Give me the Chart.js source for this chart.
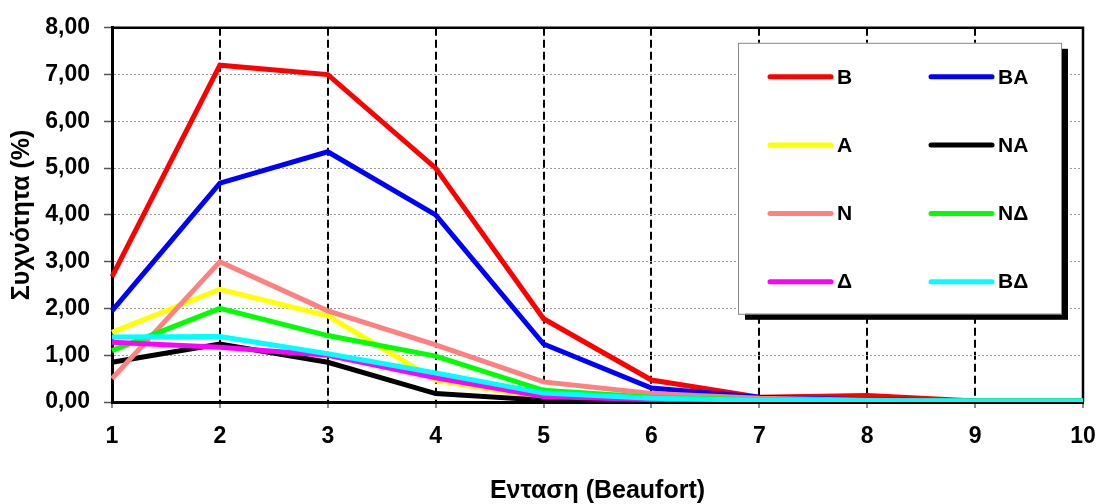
<!DOCTYPE html>
<html>
<head>
<meta charset="utf-8">
<script src="https://cdn.jsdelivr.net/npm/chart.js@4/dist/chart.umd.min.js"></script>
<style>
  body { margin: 0; background: #fff; }
  #wrap { width: 1099px; height: 504px; }
</style>
</head>
<body>
<div id="wrap"><canvas id="line-chart0" width="1099" height="504"></canvas></div>
<script>
var beaufort = ["1", "2", "3", "4", "5", "6", "7", "8", "9", "10"];

var seriesNames = ["B", "BA", "A", "NA", "N", "NΔ", "Δ", "BΔ"];
var seriesColors = ['#ff0000', '#0000ff', '#ffff00', '#000000', '#ff8080', '#00ff00', '#ff00ff', '#00ffff'];

var valB  = [2.68, 7.20, 7.00, 5.00, 1.78, 0.47, 0.10, 0.14, 0.02, 0.02];
var valBA = [1.95, 4.68, 5.35, 4.00, 1.24, 0.30, 0.10, 0.05, 0.02, 0.02];
var valA  = [1.49, 2.41, 1.84, 0.47, 0.08, 0.05, 0.03, 0.02, 0.01, 0.01];
var valNA = [0.85, 1.24, 0.85, 0.18, 0.04, 0.02, 0.01, 0.01, 0.01, 0.01];
var valN  = [0.50, 3.00, 1.95, 1.22, 0.43, 0.18, 0.08, 0.04, 0.02, 0.02];
var valND = [1.10, 2.00, 1.42, 0.98, 0.25, 0.10, 0.05, 0.03, 0.02, 0.02];
var valD  = [1.28, 1.17, 1.00, 0.52, 0.12, 0.05, 0.03, 0.02, 0.01, 0.01];
var valBD = [1.39, 1.40, 1.03, 0.62, 0.19, 0.08, 0.04, 0.03, 0.02, 0.02];

var allValues = [valB, valBA, valA, valNA, valN, valND, valD, valBD];

var yTicks = [0, 1, 2, 3, 4, 5, 6, 7, 8];

var fontFam = "'Liberation Sans', Arial, sans-serif";

// later series are painted on top, like the original
var datasets = seriesNames.map(function (name, i) {
    return {
        label: name,
        data: allValues[i],
        borderColor: seriesColors[i],
        backgroundColor: seriesColors[i],
        borderWidth: 5,
        pointRadius: 0,
        tension: 0,
        order: seriesNames.length - i
    };
});

// frame on top and right of the plot area
var framePlugin = {
    id: 'frame',
    beforeDatasetsDraw: function (chart) {
        var a = chart.chartArea, ctx = chart.ctx;
        ctx.save();
        ctx.strokeStyle = '#000';
        ctx.lineWidth = 2.5;
        ctx.beginPath();
        ctx.moveTo(a.left, a.top);
        ctx.lineTo(a.right, a.top);
        ctx.lineTo(a.right, a.bottom);
        ctx.stroke();
        ctx.restore();
    }
};

// two column boxed legend with a drop shadow
var boxLegend = {
    id: 'boxLegend',
    afterDraw: function (chart) {
        var a = chart.chartArea, ctx = chart.ctx;
        var bx = a.right - 345, by = a.top + 15, bw = 323, bh = 271;
        ctx.save();
        ctx.fillStyle = '#000';
        ctx.fillRect(bx + 7, by + 6, bw, bh);
        ctx.fillStyle = '#fff';
        ctx.fillRect(bx, by, bw, bh);
        ctx.strokeStyle = '#888';
        ctx.lineWidth = 1;
        ctx.strokeRect(bx + 0.5, by + 0.5, bw, bh);
        ctx.font = 'bold 21px ' + fontFam;
        ctx.textBaseline = 'middle';
        ctx.textAlign = 'left';
        chart.data.datasets.forEach(function (ds, i) {
            var col = i % 2, row = Math.floor(i / 2);
            var x = bx + 32 + col * 161;
            var y = by + 34 + row * 68.3;
            ctx.strokeStyle = ds.borderColor;
            ctx.lineWidth = 5;
            ctx.lineCap = 'round';
            ctx.beginPath();
            ctx.moveTo(x, y);
            ctx.lineTo(x + 61, y);
            ctx.stroke();
            ctx.fillStyle = '#000';
            ctx.fillText(ds.label, x + 67, y + 1);
        });
        ctx.restore();
    }
};

var lineChart = new Chart(document.getElementById("line-chart0"), {
    type: 'line',
    data: { labels: beaufort, datasets: datasets },
    plugins: [framePlugin, boxLegend],
    options: {
        responsive: false,
        animation: false,
        layout: { padding: { left: 0, right: 16, top: 24, bottom: 0 } },
        plugins: {
            legend: { display: false },
            tooltip: { enabled: false }
        },
        scales: {
            x: {
                offset: false,
                afterFit: function (s) {
                    s.height = 102;
                    s.paddingLeft = 0;
                    s.paddingRight = 0;
                },
                grid: {
                    color: '#000',
                    lineWidth: 2,
                    tickLength: 8,
                    tickColor: '#666',
                    tickWidth: 1.5,
                    tickBorderDash: [4, 3]
                },
                border: { display: true, color: '#000', width: 3, dash: [8, 4] },
                ticks: {
                    color: '#000',
                    padding: 13,
                    maxRotation: 0,
                    autoSkip: false,
                    font: { family: fontFam, size: 23, weight: 'bold' }
                },
                title: {
                    display: true,
                    text: 'Ενταση (Beaufort)',
                    color: '#000',
                    padding: { top: 0, bottom: 0 },
                    font: { family: fontFam, size: 25, weight: 'bold', lineHeight: 1 }
                }
            },
            y: {
                min: 0,
                max: 8,
                afterFit: function (s) { s.width = 112; },
                afterBuildTicks: function (s) {
                    s.ticks = yTicks.map(function (v) { return { value: v }; });
                },
                grid: {
                    color: '#9a9a9a',
                    lineWidth: 1,
                    tickLength: 8,
                    tickColor: '#555',
                    tickWidth: 1.5,
                    tickBorderDash: []
                },
                border: { display: true, color: '#000', width: 3, dash: [2, 2] },
                ticks: {
                    color: '#000',
                    padding: 14,
                    font: { family: fontFam, size: 23, weight: 'bold' },
                    callback: function (v) { return Number(v).toFixed(2).replace('.', ','); }
                },
                title: {
                    display: true,
                    text: 'Συχνότητα (%)',
                    color: '#000',
                    padding: { top: 10, bottom: 0 },
                    font: { family: fontFam, size: 25, weight: 'bold', lineHeight: 1 }
                }
            }
        }
    }
});
</script>
</body>
</html>
